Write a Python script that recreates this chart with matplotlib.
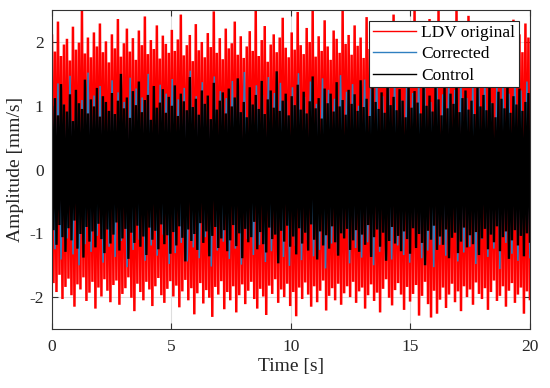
import numpy as np
import matplotlib
matplotlib.use("Agg")
import matplotlib.pyplot as plt

plt.rcParams['font.family'] = ['Liberation Serif', 'DejaVu Serif']
plt.rcParams['axes.unicode_minus'] = False
plt.rcParams['path.simplify'] = False

# peak amplitudes (mm/s x 100), upper and lower swings
ldv_up = [210, 185, 232, 178, 196, 205, 171, 224, 188, 199, 250, 182, 207, 176, 215, 193, 229, 184, 201, 168,
          212, 190, 236, 177, 198, 221, 185, 206, 172, 218, 195, 240, 181, 203, 189, 226, 174, 210, 197, 183,
          219, 186, 204, 243, 179, 195, 211, 170, 228, 187, 200, 176, 214, 192, 248, 183, 206, 173, 221, 190,
          198, 232, 180, 209, 175, 193, 217, 186, 250, 178, 203, 225, 169, 196, 212, 184, 207, 238, 191, 176,
          215, 188, 247, 195, 181, 222, 200, 250, 177, 209, 186, 234, 193, 172, 218, 205, 183, 250, 197, 211,
          180, 226, 194, 207, 175, 239, 189, 214, 202, 178, 223, 196, 185, 212, 243, 180, 204, 191, 229, 174,
          208, 250, 186, 219, 197, 181, 236, 205, 192, 250, 178, 213, 188, 227, 199, 250, 183, 208, 174, 241,
          193, 216, 181, 204, 232, 187, 210, 176, 224, 198, 185, 219, 203, 179, 235, 190, 212, 184, 229, 207]
ldv_lo = [-178, -192, -165, -203, -184, -171, -197, -215, -180, -188, -169, -206, -193, -176, -218, -185, -199, -172, -190, -208,
          -181, -174, -212, -195, -186, -169, -201, -222, -179, -192, -205, -176, -188, -214, -183, -170, -197, -209, -187, -175,
          -199, -182, -216, -191, -173, -205, -186, -227, -194, -178, -210, -189, -201, -231, -184, -196, -175, -219, -192, -205,
          -183, -224, -197, -180, -211, -190, -176, -203, -218, -187, -199, -228, -182, -195, -172, -209, -188, -200, -179, -214,
          -192, -230, -185, -203, -177, -196, -215, -183, -208, -190, -174, -221, -198, -186, -205, -179, -212, -194, -183, -200,
          -176, -209, -191, -185, -218, -197, -180, -206, -193, -224, -187, -172, -201, -213, -189, -178, -196, -220, -184, -207,
          -195, -181, -229, -198, -176, -211, -232, -190, -226, -204, -185, -217, -196, -179, -208, -191, -222, -183, -200, -188,
          -212, -177, -195, -203, -186, -220, -192, -174, -206, -198, -183, -215, -190, -178, -209, -196, -185, -226, -191, -203]

corr_up = [118, 135, 102, 147, 124, 109, 152, 116, 131, 98, 140, 121, 106, 144, 127, 113, 150, 104, 133, 119,
           142, 110, 128, 155, 115, 137, 101, 146, 123, 112, 139, 126, 153, 107, 132, 117, 145, 120, 136, 108,
           129, 151, 114, 138, 103, 143, 125, 111, 148, 122, 134, 100, 141, 127, 156, 115, 130, 146, 109, 137,
           120, 144, 131, 106, 149, 118, 139, 125, 153, 112, 136, 128, 147, 105, 133, 142, 119, 150, 124, 138]
corr_lo = [-125, -141, -108, -133, -150, -117, -129, -104, -146, -121, -137, -112, -153, -126, -110, -143, -119, -135, -102, -148,
           -131, -115, -144, -122, -139, -106, -152, -127, -113, -140, -124, -149, -109, -134, -118, -145, -128, -103, -137, -151,
           -120, -142, -111, -136, -126, -155, -116, -132, -105, -147, -123, -138, -114, -150, -129, -107, -141, -119, -134, -146,
           -112, -139, -127, -153, -118, -135, -101, -144, -130, -121, -148, -109, -137, -124, -156, -115, -132, -143, -120, -138]

ctrl_up = [98, 112, 85, 134, 102, 91, 118, 76, 125, 104, 95, 141, 88, 110, 99, 128, 83, 115, 106, 92,
           120, 87, 108, 150, 96, 113, 81, 123, 101, 138, 90, 109, 117, 78, 131, 97, 105, 126, 89, 114,
           100, 132, 84, 119, 107, 93, 145, 98, 111, 86, 124, 103, 116, 79, 136, 94, 108, 121, 88, 127,
           99, 113, 143, 90, 106, 82, 129, 102, 117, 95, 139, 87, 110, 124, 97, 154, 92, 108, 119, 85,
           115, 101, 133, 94, 122, 88, 107, 146, 96, 112, 80, 127, 104, 119, 91, 137, 99, 109, 86, 125,
           103, 118, 92, 140, 98, 111, 84, 130, 106, 95, 121, 89, 148, 101, 114, 93, 126, 108, 82, 135,
           97, 123, 105, 88, 142, 100, 116, 91, 128, 110, 85, 134, 96, 119, 103, 151, 90, 112, 124, 94,
           108, 87, 131, 99, 117, 93, 139, 104, 82, 122, 111, 96, 144, 89, 115, 102, 127, 92, 106, 120]
ctrl_lo = [-95, -118, -87, -106, -129, -92, -111, -80, -124, -101, -138, -90, -113, -97, -122, -85, -109, -131, -94, -116,
           -102, -83, -127, -108, -93, -140, -99, -115, -88, -121, -105, -134, -91, -110, -96, -125, -86, -117, -103, -132,
           -98, -119, -89, -107, -144, -94, -112, -101, -126, -84, -115, -97, -136, -104, -90, -123, -108, -95, -128, -111,
           -87, -120, -100, -139, -93, -114, -106, -82, -125, -98, -117, -130, -91, -109, -102, -147, -96, -113, -88, -121,
           -105, -133, -92, -116, -99, -127, -86, -110, -141, -97, -119, -103, -124, -89, -114, -135, -100, -108, -93, -126,
           -111, -95, -129, -102, -118, -87, -137, -106, -94, -121, -99, -143, -112, -90, -116, -104, -128, -97, -109, -132,
           -92, -123, -101, -115, -150, -96, -110, -88, -126, -105, -118, -94, -139, -107, -99, -131, -113, -91, -122, -103,
           -117, -98, -134, -108, -93, -125, -102, -114, -89, -128, -106, -97, -140, -111, -95, -119, -104, -136, -100, -113]

labels = ["LDV original", "Corrected", "Control"]
t_end = 20


def trace(up, lo):
    y = np.empty(len(up) + len(lo))
    y[0::2] = up
    y[1::2] = lo
    y = y / 100.0
    t = np.linspace(0, t_end, y.size)
    return t, y


fig = plt.figure(figsize=(5.5, 3.88), dpi=100)
ax = fig.add_axes([0.0945, 0.152, 0.869, 0.822])

series = [(ldv_up, ldv_lo, '#ff0000', 1.8), (corr_up, corr_lo, '#2f7fc0', 1.1),
          (ctrl_up, ctrl_lo, '#000000', 1.7)]
for (up, lo, col, lw), lab in zip(series, labels):
    t, y = trace(up, lo)
    ax.plot(t, y, color=col, lw=lw, label=lab, solid_joinstyle='miter')

ax.set_xlim(0, 20)
ax.set_ylim(-2.5, 2.5)
ax.set_xticks([0, 5, 10, 15, 20])
ax.set_yticks([-2, -1, 0, 1, 2])
ax.grid(True, color='#dedede', lw=0.8)
ax.set_axisbelow(True)
ax.tick_params(direction='in', top=True, right=True, length=4, width=0.8,
               color='#333333', labelsize=12.5, labelcolor='#262626')
ax.tick_params(axis='x', pad=7)
ax.tick_params(axis='y', pad=6)
for s in ax.spines.values():
    s.set_color('#333333')
    s.set_linewidth(0.8)

ax.set_xlabel('Time [s]', fontsize=14, color='#262626', labelpad=2)
ax.set_ylabel('Amplitude [mm/s]', fontsize=14, color='#262626', labelpad=4)

leg = ax.legend(loc='upper right', fontsize=12.5, fancybox=False, framealpha=1,
                edgecolor='#262626', borderpad=0.2, borderaxespad=0.65,
                handlelength=2.5, handletextpad=0.3, labelspacing=0.3)
leg.get_frame().set_linewidth(0.8)
for h in leg.get_lines():
    h.set_linewidth(1.0)

fig.savefig('out.png', dpi=100)
